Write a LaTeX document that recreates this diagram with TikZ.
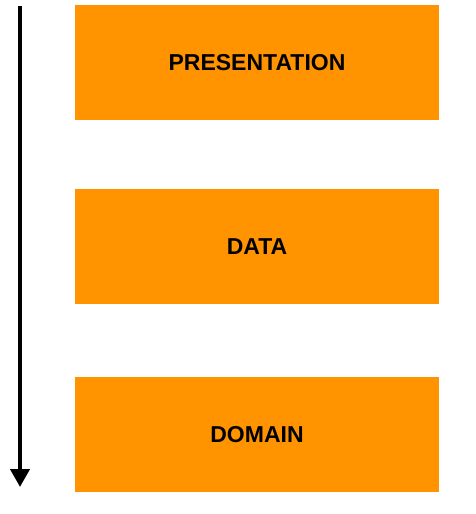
\documentclass[tikz,border=0pt]{standalone}
\usepackage{fontspec}
\setmainfont{Liberation Sans}
\usetikzlibrary{arrows.meta}
\definecolor{layerorange}{RGB}{255,147,0}
\begin{document}
\begin{tikzpicture}[x=1pt,y=-1pt,
  layer/.style={fill=layerorange, draw=none, minimum width=364pt, minimum height=115pt, inner sep=0pt, font=\bfseries\fontsize{23}{26}\selectfont, text=black}]
\useasboundingbox (0,0) rectangle (476,514);
\node[layer] (pres) at (257,62.5) {PRESENTATION};
\node[layer] (data) at (257,246.5) {DATA};
\node[layer] (dom) at (257,434.5) {DOMAIN};
\coordinate (top) at (20,6);
\coordinate (bot) at (20,487);
\draw[line width=4pt, -{Triangle[width=19pt,length=18pt]}] (top) -- (bot);
\end{tikzpicture}
\end{document}
